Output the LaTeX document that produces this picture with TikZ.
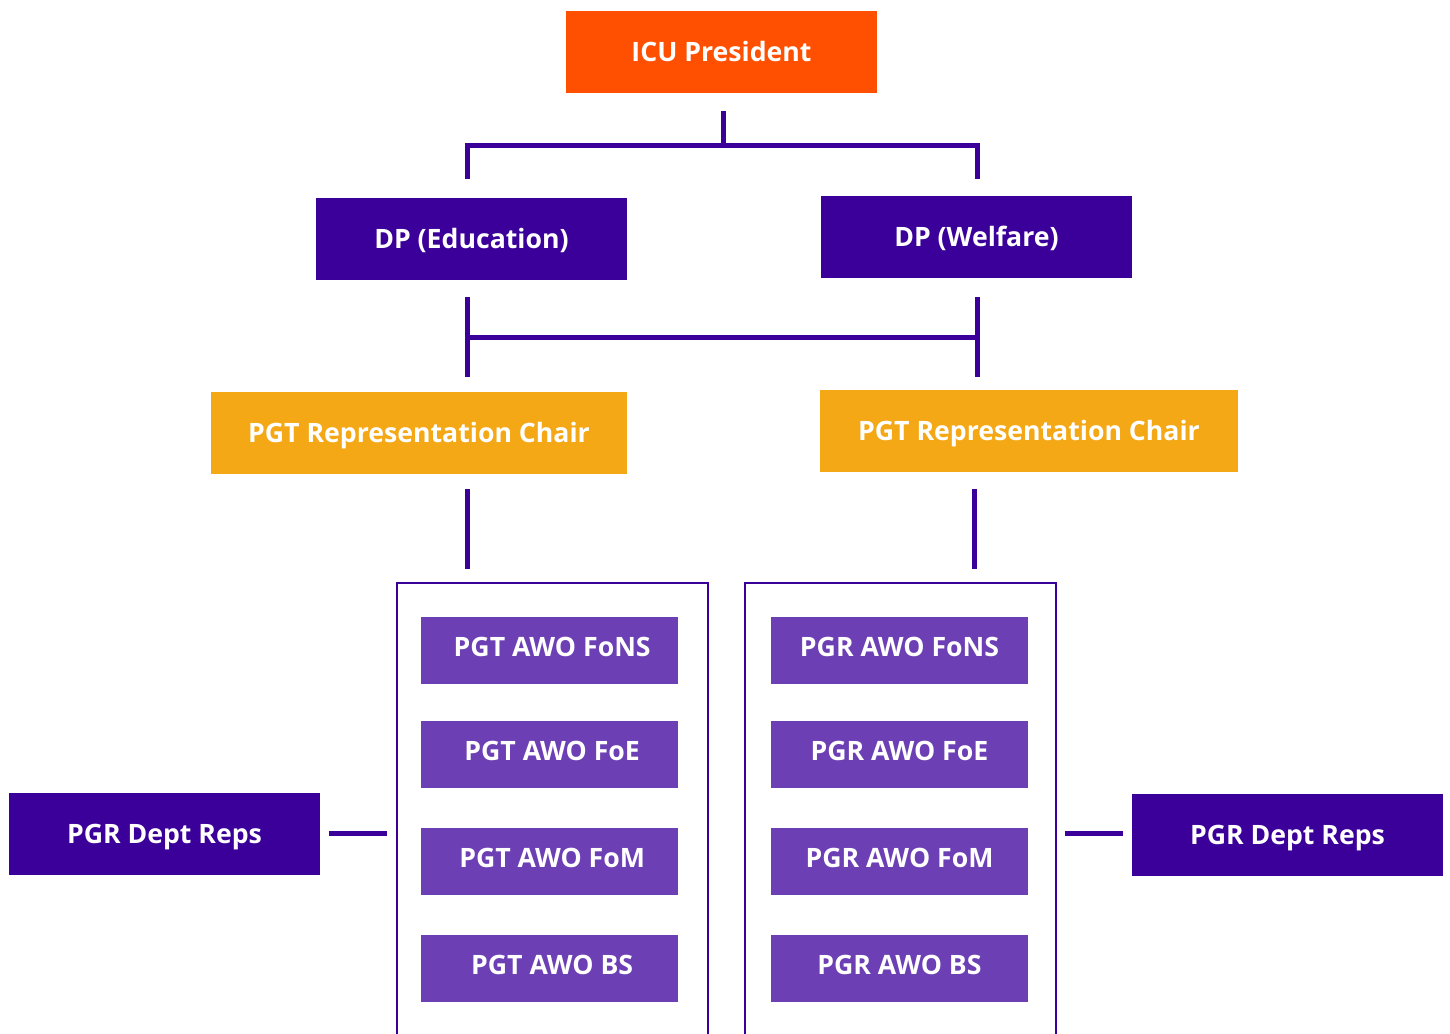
\documentclass[tikz,border=0pt]{standalone}
\usepackage{fontspec}
\setmainfont{Open Sans}
\usetikzlibrary{calc}
\definecolor{icuorange}{RGB}{255,79,0}
\definecolor{deeppurple}{RGB}{60,0,154}
\definecolor{chairgold}{RGB}{245,168,21}
\definecolor{awopurple}{RGB}{108,64,180}
\tikzset{
  box/.style={inner sep=0pt, text=white, font=\bfseries\fontsize{20}{24}\selectfont, anchor=center, text height=14.3pt, text depth=0pt},
  big/.style={box, minimum width=233.25pt, minimum height=61.5pt},
  topbox/.style={big, fill=icuorange},
  dpbox/.style={big, fill=deeppurple},
  chairbox/.style={box, fill=chairgold, minimum height=61.5pt},
  awobox/.style={box, fill=awopurple, minimum width=192.75pt, minimum height=50.25pt, text depth=6pt},
  container/.style={draw=deeppurple, line width=2pt, minimum width=233.25pt, minimum height=345pt, inner sep=0pt},
  link/.style={draw=deeppurple, line width=3.75pt},
}
\begin{document}
\begin{tikzpicture}[x=0.75pt, y=-0.75pt]
\useasboundingbox (0,0) rectangle (1450,1033);
\clip (0,0) rectangle (1450,1033);
% boxes
\node[topbox] (icu) at (721.5,52) {ICU President};
\node[dpbox] (dpe) at (471.5,239) {DP (Education)};
\node[dpbox] (dpw) at (976.5,237) {DP (Welfare)};
\node[chairbox, minimum width=312pt] (rcl) at (419,433) {PGT Representation Chair};
\node[chairbox, minimum width=313.5pt] (rcr) at (1029,431) {PGT Representation Chair};
% containers
\node[container] (contl) at (552.5,813) {};
\node[container] (contr) at (900.5,813) {};
% inner boxes
\node[awobox] (tfons) at (549.5,650.5) {\hspace*{4pt}PGT AWO FoNS};
\node[awobox] (tfoe) at (549.5,754.5) {\hspace*{4pt}PGT AWO FoE};
\node[awobox] (tfom) at (549.5,861.5) {\hspace*{4pt}PGT AWO FoM};
\node[awobox] (tbs) at (549.5,968.5) {\hspace*{4pt}PGT AWO BS};
\node[awobox] (rfons) at (899.5,650.5) {PGR AWO FoNS};
\node[awobox] (rfoe) at (899.5,754.5) {PGR AWO FoE};
\node[awobox] (rfom) at (899.5,861.5) {PGR AWO FoM};
\node[awobox] (rbs) at (899.5,968.5) {PGR AWO BS};
% side boxes
\node[dpbox] (pgrl) at (164.5,834) {PGR Dept Reps};
\node[dpbox] (pgrr) at (1287.5,835) {PGR Dept Reps};
% connector coordinates
\coordinate (a0) at (723,111);
\coordinate (a1) at (723,145);
\coordinate (a2) at (467,145);
\coordinate (a3) at (977,145);
\coordinate (a4) at (467,179);
\coordinate (a5) at (977,179);
\coordinate (b1) at (467,297);
\coordinate (b2) at (467,377);
\coordinate (b3) at (977,297);
\coordinate (b4) at (977,377);
\coordinate (b5) at (467,337);
\coordinate (b6) at (977,337);
\coordinate (c1) at (467,489);
\coordinate (c2) at (467,569);
\coordinate (c3) at (974,489);
\coordinate (c4) at (974,569);
\coordinate (d1) at (329,833);
\coordinate (d2) at (387,833);
\coordinate (d3) at (1065,833);
\coordinate (d4) at (1123,833);
% connectors
\draw[link] (a0) -- (a1);
\draw[link] (a4) -- (a2) -- (a3) -- (a5);
\draw[link] (b1) -- (b2);
\draw[link] (b3) -- (b4);
\draw[link] (b5) -- (b6);
\draw[link] (c1) -- (c2);
\draw[link] (c3) -- (c4);
\draw[link] (d1) -- (d2);
\draw[link] (d3) -- (d4);
\end{tikzpicture}
\end{document}
